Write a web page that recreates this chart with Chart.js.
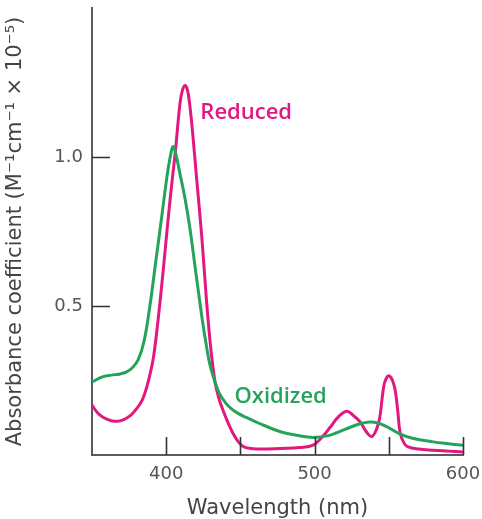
<!DOCTYPE html>
<html><head><meta charset="utf-8">
<script src="https://cdn.jsdelivr.net/npm/chart.js@4.4.1/dist/chart.umd.min.js"></script>
<style>html,body{margin:0;padding:0;background:#fff}#wrap{width:482px;height:519px}</style>
</head><body><div id="wrap"><canvas id="c" width="482" height="519"></canvas></div>
<script>
// Wavelength (nm) and absorbance coefficient (×10^-5)
const reducedNm  = [350,354,358,363,367,371,376,380,384,387,389.5,391.5,394.5,398,401.2,404,406,409.3,411,412.7,414.3,416,418.1,420.6,424,427.3,430,432.9,435.5,438.3,441.5,445,448.5,452,457,465,477,490,499,505,510.5,516,521.7,526,530.7,535,538.6,542,544,545.5,547,549,550.5,552.5,554.3,556,557.7,560.4,563,570,580,590,600];
const reducedAbs = [0.167,0.14,0.125,0.115,0.113,0.118,0.133,0.155,0.186,0.23,0.28,0.33,0.452,0.62,0.787,0.921,1.01,1.18,1.225,1.24,1.225,1.17,1.066,0.922,0.731,0.509,0.36,0.245,0.19,0.15,0.11,0.073,0.045,0.028,0.022,0.02,0.022,0.025,0.033,0.06,0.093,0.128,0.147,0.133,0.111,0.077,0.062,0.09,0.128,0.19,0.24,0.263,0.265,0.25,0.217,0.15,0.073,0.039,0.027,0.02,0.016,0.013,0.01];
const oxidizedNm  = [350,357,363,369,373,377,381,385,389,393,397,400.4,402.5,404.6,406.5,409,412.7,416,419.5,424,427.3,429.6,432.9,436,440,444,449,454,460,466,477,488,499,510,520,530,537,543,549,557,566,580,590,600];
const oxidizedAbs = [0.245,0.262,0.268,0.272,0.278,0.292,0.318,0.38,0.5,0.65,0.8,0.93,0.995,1.035,1.01,0.95,0.86,0.76,0.63,0.465,0.36,0.3,0.245,0.205,0.175,0.155,0.138,0.126,0.112,0.099,0.078,0.066,0.059,0.066,0.085,0.104,0.111,0.107,0.094,0.072,0.056,0.044,0.038,0.033];
const seriesNames = ['Reduced','Oxidized'];
const xTickValues = [350,400,450,500,550,600];
const xTickLabels = ['','400','','500','','600'];
const yTickValues = [0,0.5,1.0,1.5];
const yTickLabels = ['','0.5','1.0',''];
const xTitle = 'Wavelength (nm)';
const yTitle = 'Absorbance coefficient (M\u207B\u00B9cm\u207B\u00B9 \u00D7 10\u207B\u2075)';

const MAGENTA = '#e2177f';
const GREEN = '#26a35a';
const AXIS = '#5a5a5a';
const FONT = "'DejaVu Sans', sans-serif";

const toPts = (xs, ys) => xs.map((x, i) => ({x, y: ys[i]}));

const innerTicks = {
  id: 'innerTicks',
  afterDatasetsDraw(chart) {
    const {ctx, scales: {x, y}, chartArea: a} = chart;
    ctx.save();
    ctx.strokeStyle = '#333';
    ctx.lineWidth = 1.6;
    ctx.beginPath();
    xTickValues.forEach(v => {
      if (v === x.min) return;
      const px = Math.round(x.getPixelForValue(v)) + 0.5;
      ctx.moveTo(px, a.bottom); ctx.lineTo(px, a.bottom - 18);
    });
    yTickValues.forEach((v, i) => {
      if (!yTickLabels[i]) return;
      const py = Math.round(y.getPixelForValue(v)) + 0.5;
      ctx.moveTo(a.left, py); ctx.lineTo(a.left + 18, py);
    });
    ctx.stroke();
    ctx.restore();
  }
};

const seriesLabels = {
  id: 'seriesLabels',
  afterDatasetsDraw(chart) {
    const {ctx, scales: {x, y}} = chart;
    ctx.save();
    ctx.font = "600 22px 'Open Sans', sans-serif";
    ctx.textBaseline = 'middle';
    ctx.textAlign = 'left';
    ctx.fillStyle = MAGENTA;
    ctx.fillText(seriesNames[0], x.getPixelForValue(423), y.getPixelForValue(1.148));
    ctx.fillStyle = GREEN;
    ctx.fillText(seriesNames[1], x.getPixelForValue(446), y.getPixelForValue(0.195));
    ctx.restore();
  }
};

new Chart(document.getElementById('c'), {
  type: 'line',
  data: {
    datasets: [
      {label: seriesNames[1], data: toPts(oxidizedNm, oxidizedAbs), borderColor: GREEN, borderWidth: 3, pointRadius: 0, tension: 0.4, fill: false},
      {label: seriesNames[0], data: toPts(reducedNm, reducedAbs), borderColor: MAGENTA, borderWidth: 3, pointRadius: 0, tension: 0.4, fill: false}
    ]
  },
  options: {
    responsive: false,
    animation: false,
    devicePixelRatio: 1,
    layout: {padding: {top: 8, right: 19, left: 0, bottom: 0}},
    plugins: {legend: {display: false}, tooltip: {enabled: false}},
    scales: {
      x: {
        type: 'linear', min: 350, max: 600,
        afterBuildTicks: s => { s.ticks = xTickValues.map(v => ({value: v})); },
        afterFit: s => { s.height = 64; s.paddingLeft = 0; s.paddingRight = 0; },
        ticks: {
          autoSkip: false, maxRotation: 0, padding: 9,
          color: '#555', font: {family: FONT, size: 18},
          callback: (v) => xTickLabels[xTickValues.indexOf(v)] ?? ''
        },
        grid: {display: false, drawTicks: false},
        border: {display: true, color: AXIS, width: 2},
        title: {display: true, text: xTitle, color: '#444', font: {family: FONT, size: 21, lineHeight: 1}, padding: {top: 0, bottom: 0}}
      },
      y: {
        type: 'linear', min: 0, max: 1.5,
        afterBuildTicks: s => { s.ticks = yTickValues.map(v => ({value: v})); },
        afterFit: s => { s.width = 92; s.paddingTop = 0; s.paddingBottom = 0; },
        ticks: {
          autoSkip: false, padding: 9,
          color: '#555', font: {family: FONT, size: 18},
          callback: (v) => yTickLabels[yTickValues.indexOf(v)] ?? ''
        },
        grid: {display: false, drawTicks: false},
        border: {display: true, color: AXIS, width: 2},
        title: {display: true, text: yTitle, color: '#444', font: {family: FONT, size: 21, lineHeight: 1}, padding: {top: 5, bottom: 0}}
      }
    }
  },
  plugins: [innerTicks, seriesLabels]
});
</script></body></html>
